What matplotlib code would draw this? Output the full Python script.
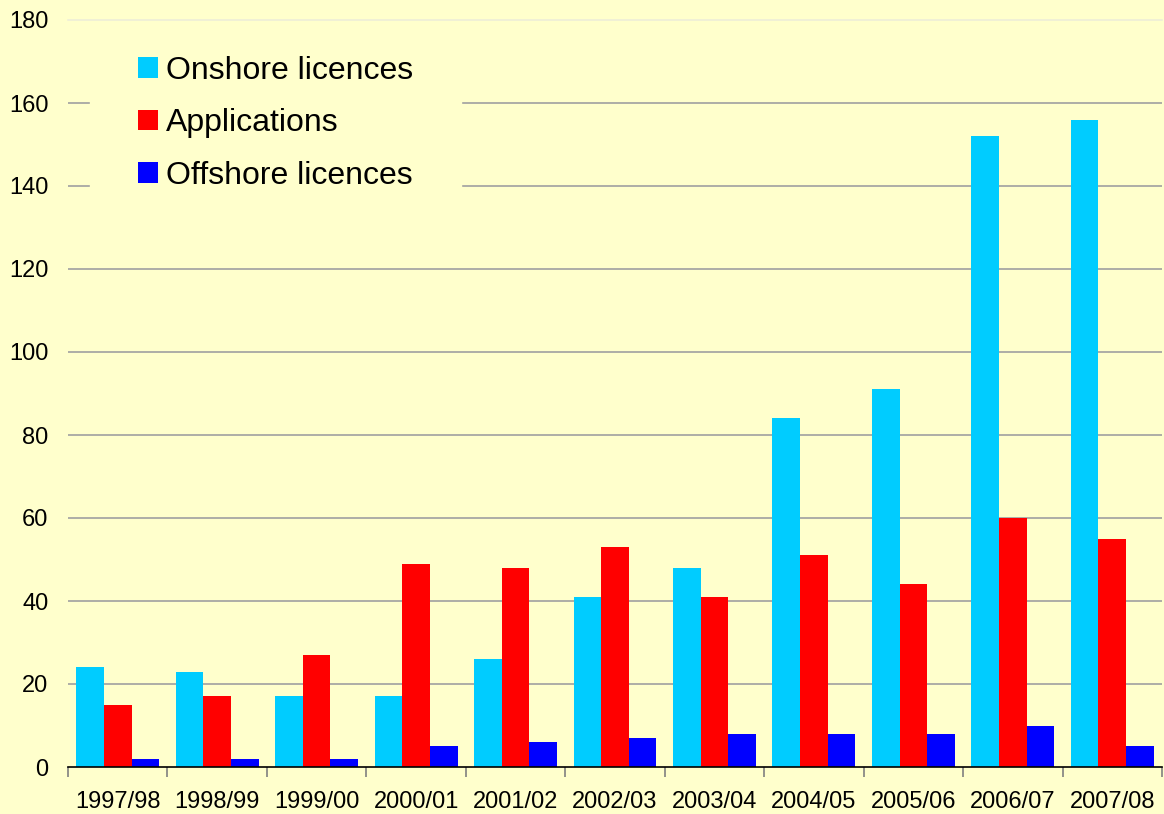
import matplotlib
matplotlib.use("Agg")
import matplotlib.pyplot as plt
import numpy as np

categories = ["1997/98", "1998/99", "1999/00", "2000/01", "2001/02", "2002/03",
              "2003/04", "2004/05", "2005/06", "2006/07", "2007/08"]
onshore = [24, 23, 17, 17, 26, 41, 48, 84, 91, 152, 156]
applications = [15, 17, 27, 49, 48, 53, 41, 51, 44, 60, 55]
offshore = [2, 2, 2, 5, 6, 7, 8, 8, 8, 10, 5]
series_names = ["Onshore licences", "Applications", "Offshore licences"]
colors = ["#00CCFF", "#FF0000", "#0000FF"]
yticks = [0, 20, 40, 60, 80, 100, 120, 140, 160, 180]

plt.rcParams['font.family'] = ['Liberation Sans', 'DejaVu Sans']
bg = "#FFFFCC"

fig = plt.figure(figsize=(11.64, 8.14), dpi=100, facecolor=bg)
ax = fig.add_axes([68/1164, 1 - 767/814, (1162-68)/1164, (767-20)/814])
ax.set_facecolor(bg)

x = np.arange(len(categories))
w = 0.278
for i, (vals, name, c) in enumerate(zip([onshore, applications, offshore], series_names, colors)):
    ax.bar(x + (i - 1) * w, vals, width=w, color=c, label=name, zorder=3)

ax.set_xlim(-0.5, len(categories) - 0.5)
ax.set_ylim(0, 180)
ax.set_yticks(yticks)
ax.set_yticklabels([str(v) for v in yticks], fontsize=17)
ax.tick_params(axis='y', length=0, pad=14)
for v in yticks[1:]:
    if v < 180:
        ax.axhline(v, color="#A0A0A0", linewidth=1.2, zorder=1)
    else:
        ax.axhline(v, color="#EEEED8", linewidth=1.2, zorder=6, clip_on=False)

ax.set_xticks(x)
ax.set_xticklabels(categories, fontsize=17)
ax.tick_params(axis='x', which='major', length=0, pad=17)
ax.set_xticks(np.arange(-0.5, len(categories)), minor=True)
ax.tick_params(axis='x', which='minor', length=7, color="#808080", width=1.2, direction='out')

for s in ['top', 'right', 'left']:
    ax.spines[s].set_visible(False)
ax.spines['bottom'].set_color('black')
ax.spines['bottom'].set_linewidth(1.2)
ax.spines['bottom'].set_zorder(4)

leg = ax.legend(loc='upper left', bbox_to_anchor=(90/1164, 1 - 8/814),
                bbox_transform=fig.transFigure, fontsize=23, frameon=True,
                facecolor=bg, edgecolor=bg, framealpha=1, fancybox=False,
                handlelength=0.63, handleheight=0.63, handletextpad=0.25,
                labelspacing=0.7, borderpad=1.5, borderaxespad=0)
leg.set_zorder(5)

fig.savefig("out.png", dpi=100, facecolor=bg)
